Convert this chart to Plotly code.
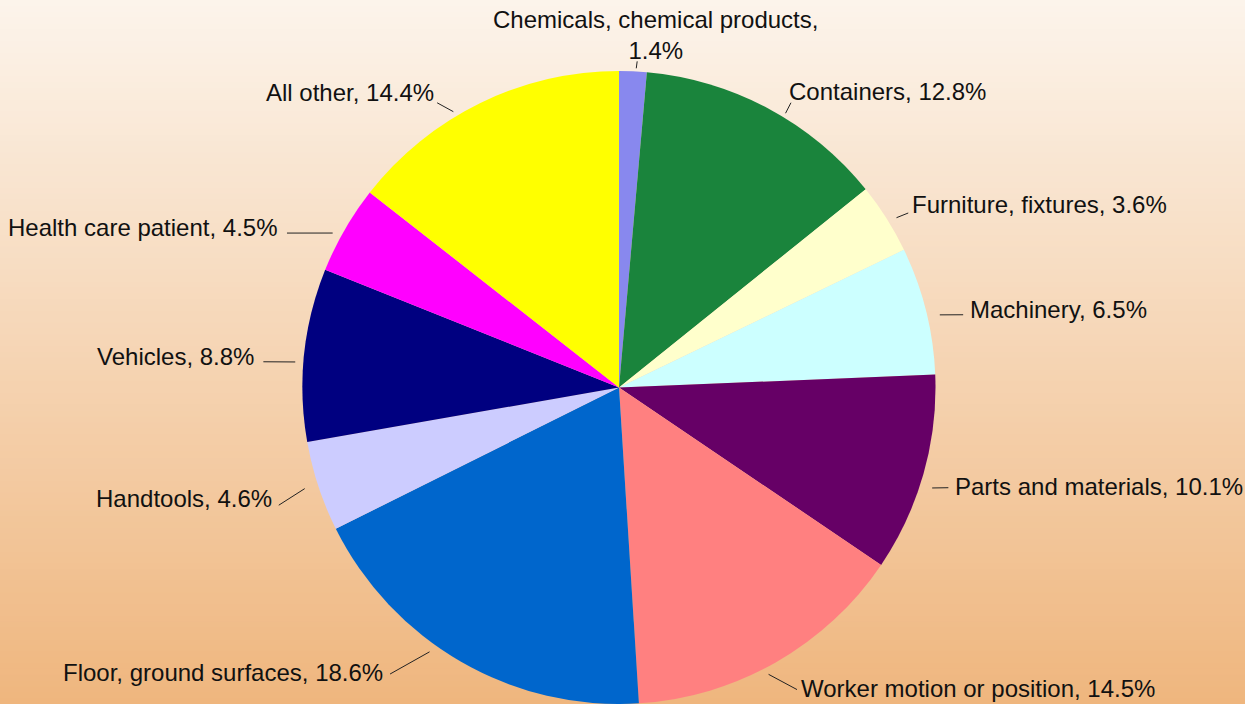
import math
import plotly.graph_objects as go

# ---- data ----
categories = [
    "Chemicals, chemical products",
    "Containers",
    "Furniture, fixtures",
    "Machinery",
    "Parts and materials",
    "Worker motion or position",
    "Floor, ground surfaces",
    "Handtools",
    "Vehicles",
    "Health care patient",
    "All other",
]
percents = [1.4, 12.8, 3.6, 6.5, 10.1, 14.5, 18.6, 4.6, 8.8, 4.5, 14.4]
colors = ["#8888ee", "#1a843c", "#ffffcc", "#ccffff", "#660066", "#ff8080",
          "#0066cc", "#ccccff", "#000080", "#ff00ff", "#ffff00"]

# ---- label layout tweaks (pixel nudges relative to the radial positions) ----
line_start_nudge = [(3, 4), (14, 11), (4, 3), (7, 6), (2, 12), (-11, 6),
                    (-28, -16), (-7, 0), (-2, 8), (-6, 7), (-24, 15)]
line_end_nudge = [(3, 18), (9.5, 19), (-2, 9.5), (10, 11), (-2, 6), (7, 3),
                  (-57, -12), (-13, 10), (-13, 10), (-33.5, 17.5), (-31, 25)]
text_nudge = [(18, -26), (-3, -11), (3, -8), (6, -5), (6, -1), (3, -1),
              (-6, -2), (-6, -7), (-8, -5), (-8, -6), (-2, -10)]

# ---- geometry ----
W, H = 1245, 704
CX, CY, R = 619.0, 387.5, 316.5   # pixel centre / radius of pie
FONT = "Liberation Sans, Arial, sans-serif"
FS = 24

fig = go.Figure()
fig.add_trace(go.Pie(
    labels=categories, values=percents,
    marker=dict(colors=colors, line=dict(width=0)),
    sort=False, direction="clockwise", rotation=0,
    textinfo="none", hoverinfo="label+value", showlegend=False,
    domain=dict(x=[(CX - R) / W, (CX + R) / W], y=[0, 2 * R / H]),
))

# background gradient as horizontal bands
top = (252, 244, 235)
bot = (239, 182, 126)
nb = 120
shapes = []
for i in range(nb):
    t = i / (nb - 1)
    c = tuple(round(top[k] + (bot[k] - top[k]) * t) for k in range(3))
    shapes.append(dict(type="rect", xref="paper", yref="paper",
                       x0=0, x1=1, y0=1 - (i + 1) / nb - 0.002, y1=1 - i / nb,
                       fillcolor="rgb(%d,%d,%d)" % c, line=dict(width=0),
                       layer="below"))


def px2paper(x, y):
    return x / W, 1 - y / H


annotations = []
total = sum(percents)
cum = 0.0
for i, (name, v) in enumerate(zip(categories, percents)):
    mid = (cum + v / 2) / total
    cum += v
    th = 2 * math.pi * mid
    sx, sy = math.sin(th), math.cos(th)
    r1, r2 = R + 7, R + 28
    x1 = CX + r1 * sx + line_start_nudge[i][0]
    y1 = CY - r1 * sy + line_start_nudge[i][1]
    x2 = CX + r2 * sx + line_end_nudge[i][0]
    y2 = CY - r2 * sy + line_end_nudge[i][1]
    a0, b0 = px2paper(x1, y1)
    a1, b1 = px2paper(x2, y2)
    shapes.append(dict(type="line", xref="paper", yref="paper",
                       x0=a0, y0=b0, x1=a1, y1=b1,
                       line=dict(color="#222222", width=1)))
    tx, ty = x2 + text_nudge[i][0], y2 + text_nudge[i][1]
    ax, ay = px2paper(tx, ty)
    if abs(sx) < 0.2:
        text = "%s,<br>%.1f%%" % (name, v)
        xa = "center"
    else:
        text = "%s, %.1f%%" % (name, v)
        xa = "left" if sx > 0 else "right"
    annotations.append(dict(x=ax, y=ay, xref="paper", yref="paper",
                            text=text, showarrow=False, xanchor=xa,
                            yanchor="middle", align="center", borderpad=0,
                            font=dict(family=FONT, size=FS, color="#111111")))

fig.update_layout(
    width=W, height=H,
    margin=dict(l=0, r=0, t=0, b=0),
    paper_bgcolor="#f5d2ab",
    plot_bgcolor="rgba(0,0,0,0)",
    shapes=shapes,
    annotations=annotations,
)

fig.write_html("out.html",
               config={"displayModeBar": False},
               post_script="document.body.style.margin='0';document.body.style.overflow='hidden';")
